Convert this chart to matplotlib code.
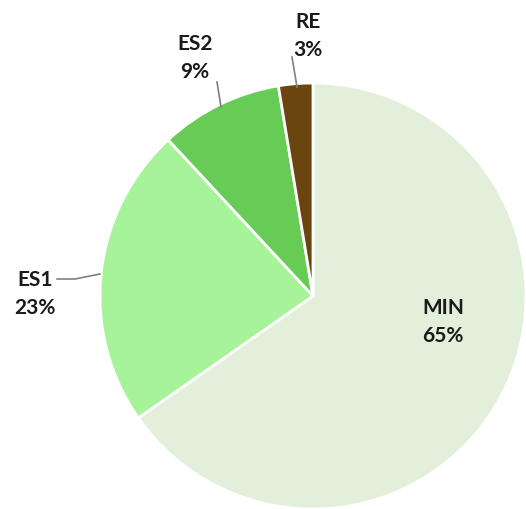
import matplotlib
matplotlib.use("Agg")
import matplotlib.pyplot as plt

labels = ["MIN", "ES1", "ES2", "RE"]
values = [65.3, 22.8, 9.3, 2.6]
colors = ["#E2EFDA", "#A6F39A", "#66CC55", "#6B4510"]

plt.rcParams['font.family'] = ['Lato', 'DejaVu Sans']

W, H = 526, 510
fig = plt.figure(figsize=(W / 100, H / 100), dpi=100)
cx, cy, r = 313, 297, 213
ax = fig.add_axes([(cx - r) / W, (H - cy - r) / H, 2 * r / W, 2 * r / H])

ax.pie(values, colors=colors, startangle=90, counterclock=False, radius=1,
       wedgeprops=dict(edgecolor="white", linewidth=2))
ax.set_xlim(-1, 1)
ax.set_ylim(-1, 1)
ax.set_aspect('equal')
ax.axis('off')

def px(x, y):
    return ((x - cx) / r, (cy - y) / r)

total = sum(values)
texts = {
    "MIN": (443, 322),
    "ES1": (35, 294),
    "ES2": (195, 58),
    "RE": (308, 36),
}
for lab, v in zip(labels, values):
    pct = round(v / total * 100)
    x, y = px(*texts[lab])
    ax.text(x, y, f"{lab}\n{pct}%", ha="center", va="center", fontsize=15,
            fontweight="bold", color="#1a1a1a", linespacing=1.55, clip_on=False)

leaders = [
    [(57, 280), (75, 280), (100, 275)],
    [(217, 83), (221, 108)],
    [(292, 58), (297, 88)],
]
for pts in leaders:
    xs, ys = zip(*[px(a, b) for a, b in pts])
    ax.plot(xs, ys, color="#808080", lw=1.2, clip_on=False)

fig.savefig("out.png", dpi=100)
